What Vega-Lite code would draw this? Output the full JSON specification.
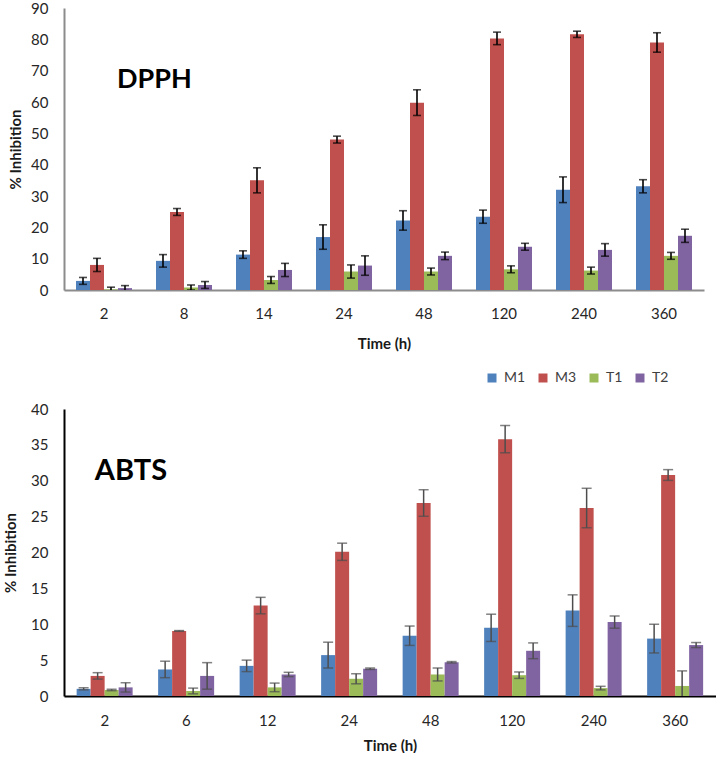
{
  "$schema": "https://vega.github.io/schema/vega-lite/v6.json",
  "padding": {"left": 3, "top": 1, "right": 0, "bottom": 0},
  "background": "white",
  "spacing": 20,
  "datasets": {
    "dpph": [
      {"time": "2", "series": "M1", "value": 2.9, "err": 1.1},
      {"time": "2", "series": "M3", "value": 8.0, "err": 2.1},
      {"time": "2", "series": "T1", "value": 0.2, "err": 0.7},
      {"time": "2", "series": "T2", "value": 0.6, "err": 0.8},
      {"time": "8", "series": "M1", "value": 9.3, "err": 2.0},
      {"time": "8", "series": "M3", "value": 24.9, "err": 1.1},
      {"time": "8", "series": "T1", "value": 0.8, "err": 0.8},
      {"time": "8", "series": "T2", "value": 1.6, "err": 1.1},
      {"time": "14", "series": "M1", "value": 11.3, "err": 1.2},
      {"time": "14", "series": "M3", "value": 35.0, "err": 4.0},
      {"time": "14", "series": "T1", "value": 3.2, "err": 1.1},
      {"time": "14", "series": "T2", "value": 6.4, "err": 2.1},
      {"time": "24", "series": "M1", "value": 16.9, "err": 3.9},
      {"time": "24", "series": "M3", "value": 48.0, "err": 1.1},
      {"time": "24", "series": "T1", "value": 5.9, "err": 2.1},
      {"time": "24", "series": "T2", "value": 7.8, "err": 3.1},
      {"time": "48", "series": "M1", "value": 22.2, "err": 3.1},
      {"time": "48", "series": "M3", "value": 59.8, "err": 4.1},
      {"time": "48", "series": "T1", "value": 5.9, "err": 1.1},
      {"time": "48", "series": "T2", "value": 10.9, "err": 1.2},
      {"time": "120", "series": "M1", "value": 23.4, "err": 2.1},
      {"time": "120", "series": "M3", "value": 80.3, "err": 2.0},
      {"time": "120", "series": "T1", "value": 6.6, "err": 1.1},
      {"time": "120", "series": "T2", "value": 13.8, "err": 1.1},
      {"time": "240", "series": "M1", "value": 32.0, "err": 4.1},
      {"time": "240", "series": "M3", "value": 81.6, "err": 1.0},
      {"time": "240", "series": "T1", "value": 6.2, "err": 1.1},
      {"time": "240", "series": "T2", "value": 12.8, "err": 2.0},
      {"time": "360", "series": "M1", "value": 33.1, "err": 2.1},
      {"time": "360", "series": "M3", "value": 79.0, "err": 3.1},
      {"time": "360", "series": "T1", "value": 10.9, "err": 1.1},
      {"time": "360", "series": "T2", "value": 17.3, "err": 2.1}
    ],
    "abts": [
      {"time": "2", "series": "M1", "value": 1.0, "err": 0.15},
      {"time": "2", "series": "M3", "value": 2.8, "err": 0.45},
      {"time": "2", "series": "T1", "value": 0.84, "err": 0.1},
      {"time": "2", "series": "T2", "value": 1.2, "err": 0.65},
      {"time": "6", "series": "M1", "value": 3.7, "err": 1.15},
      {"time": "6", "series": "M3", "value": 9.07, "err": 0.05},
      {"time": "6", "series": "T1", "value": 0.7, "err": 0.4},
      {"time": "6", "series": "T2", "value": 2.8, "err": 1.85},
      {"time": "12", "series": "M1", "value": 4.2, "err": 0.8},
      {"time": "12", "series": "M3", "value": 12.6, "err": 1.15},
      {"time": "12", "series": "T1", "value": 1.2, "err": 0.6},
      {"time": "12", "series": "T2", "value": 3.0, "err": 0.3},
      {"time": "24", "series": "M1", "value": 5.7, "err": 1.8},
      {"time": "24", "series": "M3", "value": 20.1, "err": 1.2},
      {"time": "24", "series": "T1", "value": 2.4, "err": 0.7},
      {"time": "24", "series": "T2", "value": 3.8, "err": 0.1},
      {"time": "48", "series": "M1", "value": 8.4, "err": 1.35},
      {"time": "48", "series": "M3", "value": 26.9, "err": 1.85},
      {"time": "48", "series": "T1", "value": 3.0, "err": 0.9},
      {"time": "48", "series": "T2", "value": 4.7, "err": 0.1},
      {"time": "120", "series": "M1", "value": 9.5, "err": 1.9},
      {"time": "120", "series": "M3", "value": 35.8, "err": 1.9},
      {"time": "120", "series": "T1", "value": 2.9, "err": 0.45},
      {"time": "120", "series": "T2", "value": 6.3, "err": 1.1},
      {"time": "240", "series": "M1", "value": 11.9, "err": 2.2},
      {"time": "240", "series": "M3", "value": 26.2, "err": 2.75},
      {"time": "240", "series": "T1", "value": 1.1, "err": 0.25},
      {"time": "240", "series": "T2", "value": 10.3, "err": 0.85},
      {"time": "360", "series": "M1", "value": 8.0, "err": 2.0},
      {"time": "360", "series": "M3", "value": 30.8, "err": 0.75},
      {"time": "360", "series": "T1", "value": 1.4, "err": 2.1},
      {"time": "360", "series": "T2", "value": 7.1, "err": 0.35}
    ]
  },
  "resolve": {"legend": {"color": "independent"}},
  "vconcat": [
    {
      "width": 640,
      "height": 282,
      "layer": [
        {
          "data": {"name": "dpph"},
          "mark": {"type": "bar"},
          "encoding": {
            "x": {
              "field": "time",
              "type": "nominal",
              "scale": {"domain": ["2", "8", "14", "24", "48", "120", "240", "360"], "paddingInner": 0.3, "paddingOuter": 0.15},
              "title": "Time (h)",
              "axis": {"labelAngle": 0, "domainColor": "#8c8c8c", "domainWidth": 2, "ticks": false, "labelPadding": 16, "titlePadding": 15}
            },
            "xOffset": {"field": "series", "scale": {"domain": ["M1", "M3", "T1", "T2"], "paddingInner": 0, "paddingOuter": 0}},
            "y": {
              "field": "value",
              "type": "quantitative",
              "scale": {"domain": [0, 90]},
              "title": "% Inhibition",
              "axis": {"tickCount": 10, "labelOverlap": false, "domainColor": "#8c8c8c", "domainWidth": 2, "ticks": false, "grid": false, "labelPadding": 16, "titlePadding": 7}
            },
            "color": {
              "field": "series",
              "type": "nominal",
              "scale": {"domain": ["M1", "M3", "T1", "T2"], "range": ["#4f81bd", "#c0504d", "#9bbb59", "#8064a2"]},
              "legend": null
            }
          }
        },
        {
          "data": {"name": "dpph"},
          "mark": {"type": "errorbar", "clip": true, "ticks": {"size": 8, "thickness": 1.6, "color": "black"}, "rule": {"strokeWidth": 1.6, "color": "black"}},
          "encoding": {
            "x": {"field": "time", "type": "nominal"},
            "xOffset": {"field": "series"},
            "y": {
              "field": "value",
              "type": "quantitative",
              "title": "% Inhibition",
              "axis": {"tickCount": 10, "labelOverlap": false, "domainColor": "#8c8c8c", "domainWidth": 2, "ticks": false, "grid": false, "labelPadding": 16, "titlePadding": 7}
            },
            "yError": {"field": "err"}
          }
        },
        {
          "data": {"values": [{"label": "DPPH", "time": "2", "pos": 67}]},
          "mark": {"type": "text", "align": "left", "baseline": "middle", "dx": 13, "fontSize": 27, "fontWeight": "bold", "font": "Lato", "color": "black"},
          "encoding": {
            "x": {"field": "time", "type": "nominal"},
            "y": {"field": "pos", "type": "quantitative"},
            "text": {"field": "label"}
          }
        }
      ]
    },
    {
      "width": 652,
      "height": 287,
      "layer": [
        {
          "data": {"name": "abts"},
          "mark": {"type": "bar"},
          "encoding": {
            "x": {
              "field": "time",
              "type": "nominal",
              "scale": {"domain": ["2", "6", "12", "24", "48", "120", "240", "360"], "paddingInner": 0.31, "paddingOuter": 0.155},
              "title": "Time (h)",
              "axis": {"labelAngle": 0, "domainColor": "black", "domainWidth": 2, "ticks": false, "labelPadding": 17, "titlePadding": 10}
            },
            "xOffset": {"field": "series", "scale": {"domain": ["M1", "M3", "T1", "T2"], "paddingInner": 0.25, "paddingOuter": 0}},
            "y": {
              "field": "value",
              "type": "quantitative",
              "scale": {"domain": [0, 40]},
              "title": "% Inhibition",
              "axis": {"tickCount": 8, "labelOverlap": false, "domainColor": "black", "domainWidth": 2, "ticks": false, "grid": false, "labelPadding": 16, "titlePadding": 12}
            },
            "color": {
              "field": "series",
              "type": "nominal",
              "scale": {"domain": ["M1", "M3", "T1", "T2"], "range": ["#4f81bd", "#c0504d", "#9bbb59", "#8064a2"]},
              "legend": {
                "title": null,
                "orient": "none",
                "direction": "horizontal",
                "legendX": 421,
                "legendY": -38,
                "symbolType": "square",
                "symbolSize": 81,
                "symbolStrokeWidth": 0,
                "labelFontSize": 14,
                "labelColor": "#404040",
                "labelFont": "Lato",
                "labelOffset": 5,
                "columnPadding": 10
              }
            }
          }
        },
        {
          "data": {"name": "abts"},
          "mark": {"type": "errorbar", "clip": true, "ticks": {"size": 10, "thickness": 1.5, "color": "#4d4d4d"}, "rule": {"strokeWidth": 1.5, "color": "#4d4d4d"}},
          "encoding": {
            "x": {"field": "time", "type": "nominal"},
            "xOffset": {"field": "series"},
            "y": {
              "field": "value",
              "type": "quantitative",
              "title": "% Inhibition",
              "axis": {"tickCount": 8, "labelOverlap": false, "domainColor": "black", "domainWidth": 2, "ticks": false, "grid": false, "labelPadding": 16, "titlePadding": 12}
            },
            "yError": {"field": "err"}
          }
        },
        {
          "data": {"values": [{"label": "ABTS", "time": "2", "pos": 31.4}]},
          "mark": {"type": "text", "align": "left", "baseline": "middle", "dx": -10, "fontSize": 29, "fontWeight": "bold", "font": "Lato", "color": "black"},
          "encoding": {
            "x": {"field": "time", "type": "nominal"},
            "y": {"field": "pos", "type": "quantitative"},
            "text": {"field": "label"}
          }
        }
      ]
    }
  ],
  "config": {
    "view": {"stroke": null},
    "font": "Lato",
    "axis": {
      "labelFont": "Lato",
      "labelFontSize": 15,
      "labelColor": "#262626",
      "titleFont": "Lato",
      "titleFontSize": 15,
      "titleFontWeight": "bold",
      "titleColor": "#1a1a1a"
    }
  }
}
